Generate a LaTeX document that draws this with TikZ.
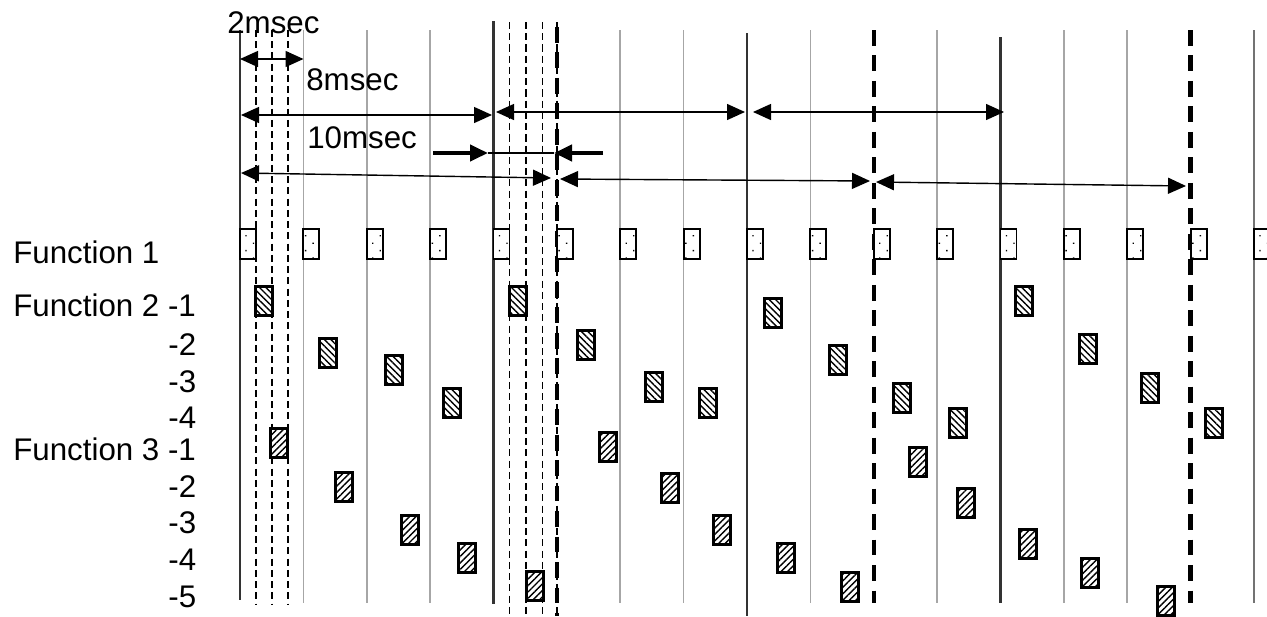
\documentclass[tikz,border=0pt]{standalone}
\usepackage{fontspec}
\setmainfont{Liberation Sans}
\usetikzlibrary{arrows.meta,patterns.meta}

\tikzset{
  tickline/.style={black!35, line width=0.9pt},
  frameline/.style={black!80, line width=1.5pt},
  thindash/.style={black, line width=0.8pt, dash pattern=on 4pt off 2.4pt},
  thickdash/.style={black, line width=2.3pt, dash pattern=on 9pt off 5.5pt},
  span/.style={{Triangle[length=0.36cm,width=0.32cm]}-{Triangle[length=0.36cm,width=0.32cm]}, line width=0.8pt},
  fat/.style={-{Triangle[length=0.36cm,width=0.32cm]}, line width=2.3pt},
  lbl/.style={anchor=base west, inner sep=0pt, font=\fontsize{17.8pt}{21pt}\selectfont},
  slot/.style={draw, inner sep=0pt, preaction={fill=white}},
  fone/.style={slot, line width=1.1pt, minimum width=0.32cm, minimum height=0.6cm,
               pattern={Dots[radius=0.55pt, distance=6pt, angle=45]}},
  ftwo/.style={slot, line width=1.3pt, minimum width=0.34cm, minimum height=0.58cm,
               pattern={Lines[angle=-45, distance=2.6pt, line width=0.8pt]}},
  fthree/.style={slot, line width=1.3pt, minimum width=0.34cm, minimum height=0.58cm,
               pattern={Lines[angle=45, distance=2.6pt, line width=0.8pt]}}
}

\begin{document}
\begin{tikzpicture}
  \useasboundingbox (0,0) rectangle (25.34,-12.32);

  % 2msec slots
  \foreach \k in {1,2,3,6,7,9,11,13,14}
    \draw[tickline] ({4.8+1.2675*\k},-0.6) -- ({4.8+1.2675*\k},-12.06);

  % 8msec frames
  \draw[frameline] (4.8,-0.6) -- (4.8,-12.0);
  \draw[frameline] (9.87,-0.42) -- (9.87,-12.08);
  \draw[frameline] (14.94,-0.66) -- (14.94,-12.32);
  \draw[frameline] (20.01,-0.74) -- (20.01,-12.06);
  \draw[frameline, black!55] (25.08,-0.6) -- (25.08,-12.06);

  % sub-slots
  \foreach \x in {5.12,5.44,5.76}
    \draw[thindash] (\x,-0.6) -- (\x,-12.1);
  \foreach \x in {10.19,10.52,10.85,11.14}
    \draw[thindash] (\x,-0.44) -- (\x,-12.32);

  % 10msec frames
  \draw[thickdash] (11.14,-0.54) -- (11.14,-12.32);
  \draw[thickdash] (17.475,-0.6) -- (17.475,-12.06);
  \draw[thickdash] (23.81,-0.6) -- (23.81,-12.06);

  % spans
  \node[lbl] (t2) at (4.54,-0.66) {2msec};
  \node[lbl] (t8) at (6.12,-1.80) {8msec};
  \node[lbl] (t10) at (6.14,-2.96) {10msec};

  \coordinate (s2a) at (4.8,-1.18);
  \coordinate (s2b) at (6.07,-1.18);
  \draw[span] (s2a) -- (s2b);

  \coordinate (s8a) at (4.82,-2.30);
  \coordinate (s8b) at (9.84,-2.30);
  \coordinate (s8c) at (9.92,-2.24);
  \coordinate (s8d) at (14.90,-2.24);
  \coordinate (s8e) at (15.06,-2.24);
  \coordinate (s8f) at (20.08,-2.24);
  \draw[span] (s8a) -- (s8b);
  \draw[span] (s8c) -- (s8d);
  \draw[span] (s8e) -- (s8f);

  \coordinate (w1) at (8.66,-3.06);
  \coordinate (w2) at (9.76,-3.06);
  \coordinate (w3) at (11.08,-3.06);
  \coordinate (w4) at (12.06,-3.06);
  \draw[fat] (w1) -- (w2);
  \draw[line width=0.8pt] (w2) -- (w3);
  \draw[fat] (w4) -- (w3);

  \coordinate (s10a) at (4.82,-3.46);
  \coordinate (s10b) at (11.02,-3.56);
  \coordinate (s10c) at (11.20,-3.58);
  \coordinate (s10d) at (17.40,-3.62);
  \coordinate (s10e) at (17.52,-3.64);
  \coordinate (s10f) at (23.72,-3.72);
  \draw[span] (s10a) -- (s10b);
  \draw[span] (s10c) -- (s10d);
  \draw[span] (s10e) -- (s10f);

  % row labels
  \node[lbl] (r1) at (0.26,-5.26) {Function 1};
  \node[lbl] (r21) at (0.26,-6.32) {Function 2 -1};
  \node[lbl] (r22) at (3.36,-7.10) {-2};
  \node[lbl] (r23) at (3.36,-7.84) {-3};
  \node[lbl] (r24) at (3.36,-8.56) {-4};
  \node[lbl] (r31) at (0.26,-9.20) {Function 3 -1};
  \node[lbl] (r32) at (3.36,-9.94) {-2};
  \node[lbl] (r33) at (3.36,-10.66) {-3};
  \node[lbl] (r34) at (3.36,-11.40) {-4};
  \node[lbl] (r35) at (3.36,-12.14) {-5};

  % function 1
  \foreach \k in {0,...,16}
    \node[fone] (fa\k) at ({4.96+1.2675*\k},-4.875) {};

  % function 2
  \node[ftwo] (fb1) at (5.28,-6.02) {};
  \node[ftwo] (fb2) at (6.56,-7.06) {};
  \node[ftwo] (fb3) at (7.88,-7.40) {};
  \node[ftwo] (fb4) at (9.04,-8.06) {};
  \node[ftwo] (fb5) at (10.36,-6.02) {};
  \node[ftwo] (fb6) at (11.72,-6.90) {};
  \node[ftwo] (fb7) at (13.08,-7.74) {};
  \node[ftwo] (fb8) at (14.16,-8.06) {};
  \node[ftwo] (fb9) at (15.46,-6.26) {};
  \node[ftwo] (fb10) at (16.76,-7.20) {};
  \node[ftwo] (fb11) at (18.04,-7.96) {};
  \node[ftwo] (fb12) at (19.16,-8.46) {};
  \node[ftwo] (fb13) at (20.48,-6.02) {};
  \node[ftwo] (fb14) at (21.76,-6.98) {};
  \node[ftwo] (fb15) at (23.00,-7.76) {};
  \node[ftwo] (fb16) at (24.28,-8.46) {};

  % function 3
  \node[fthree] (fc1) at (5.58,-8.86) {};
  \node[fthree] (fc2) at (6.88,-9.74) {};
  \node[fthree] (fc3) at (8.20,-10.60) {};
  \node[fthree] (fc4) at (9.34,-11.16) {};
  \node[fthree] (fc5) at (10.70,-11.72) {};
  \node[fthree] (fc6) at (12.16,-8.94) {};
  \node[fthree] (fc7) at (13.40,-9.76) {};
  \node[fthree] (fc8) at (14.44,-10.60) {};
  \node[fthree] (fc9) at (15.72,-11.16) {};
  \node[fthree] (fc10) at (17.00,-11.74) {};
  \node[fthree] (fc11) at (18.36,-9.24) {};
  \node[fthree] (fc12) at (19.32,-10.06) {};
  \node[fthree] (fc13) at (20.56,-10.88) {};
  \node[fthree] (fc14) at (21.80,-11.46) {};
  \node[fthree] (fc15) at (23.32,-12.02) {};
\end{tikzpicture}
\end{document}
